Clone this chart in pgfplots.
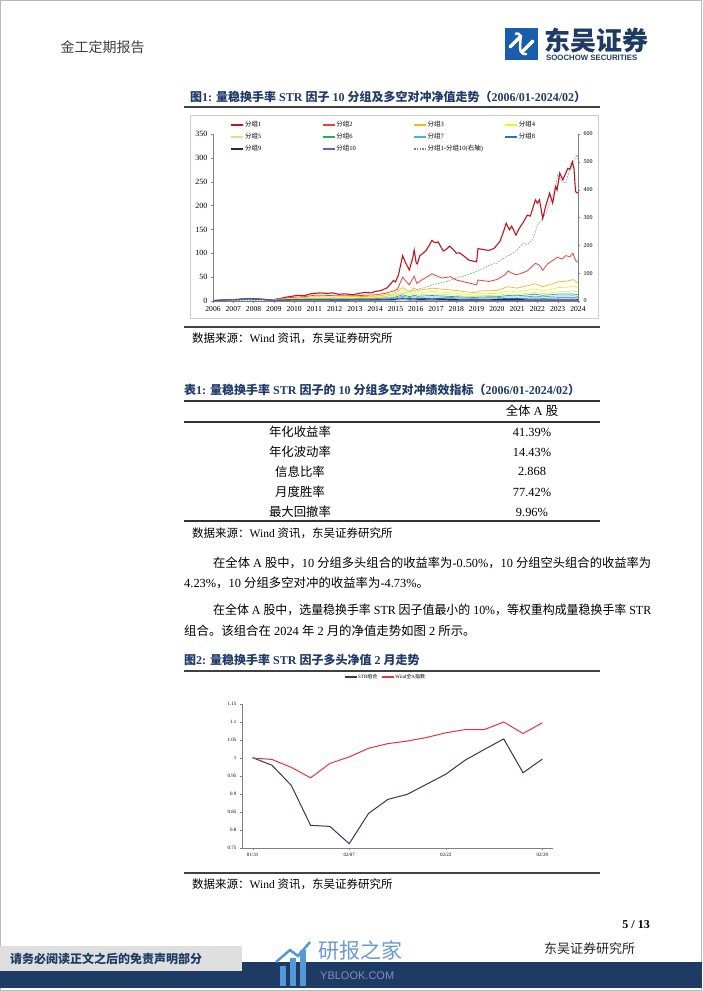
\documentclass[border=0pt]{standalone}
\usepackage{fontspec}
\setmainfont{Liberation Serif}
\newfontfamily\cjk{Noto Sans CJK SC}
\newfontfamily\sans{Liberation Sans}
\usepackage{graphicx}
\usepackage{pgfplots}
\pgfplotsset{compat=1.18}

% switch CJK characters to the CJK font automatically
\makeatletter
\XeTeXinterchartokenstate=1
\chardef\CJKcls=10
\count@="3000
\loop\XeTeXcharclass\count@=\CJKcls\advance\count@ 1\ifnum\count@<"3040\repeat
\count@="4E00
\loop\XeTeXcharclass\count@=\CJKcls\advance\count@ 1\ifnum\count@<"A000\repeat
\count@="FF00
\loop\XeTeXcharclass\count@=\CJKcls\advance\count@ 1\ifnum\count@<"FFF0\repeat
\XeTeXinterchartoks 0 \CJKcls={\begingroup\cjk}
\XeTeXinterchartoks 4095 \CJKcls={\begingroup\cjk}
\XeTeXinterchartoks \CJKcls 0={\endgroup}
\XeTeXinterchartoks \CJKcls 4095={\endgroup}
\makeatother
\XeTeXlinebreaklocale "zh"
\XeTeXlinebreakskip=0pt plus 2pt

\definecolor{titleblue}{HTML}{1F3A6B}
\definecolor{logoblue}{HTML}{1A5DAD}
\definecolor{navy}{HTML}{1D3B64}
\definecolor{gA}{HTML}{C0141E}
\definecolor{gB}{HTML}{E8413C}
\definecolor{gC}{HTML}{F2B62C}
\definecolor{gD}{HTML}{F7EF1E}
\definecolor{gE}{HTML}{D6E38A}
\definecolor{gF}{HTML}{2EA85B}
\definecolor{gG}{HTML}{3FB6E8}
\definecolor{gH}{HTML}{2F72B8}
\definecolor{gI}{HTML}{1F2A5C}
\definecolor{gJ}{HTML}{6E5DB5}
\definecolor{strc}{HTML}{2B3A67}
\definecolor{windc}{HTML}{E8343E}

\newcommand{\legtxt}[1]{\makebox[76pt][l]{#1}}

\begin{document}
\begin{tikzpicture}[x=1pt,y=1pt]
\path[use as bounding box, fill=white] (0,0) rectangle (702,-991);
\draw[gray!55, line width=0.8pt] (0.4,-0.4) rectangle (701.6,-990.6);

% header
\node[anchor=west, font=\fontsize{14}{16}\selectfont, text=black!75] at (57,-47) {金工定期报告};
\fill[logoblue] (505,-28) rectangle (538,-60);
\draw[white, line width=3.2pt, line cap=round] (510,-47) -- (521,-36);
\draw[white, line width=3.2pt, line cap=round] (522,-52) -- (533,-41);
\draw[white, line width=2.4pt] (515,-34) .. controls (528,-30) and (512,-56) .. (527,-54);
\node[anchor=west, font=\bfseries\fontsize{26}{28}\selectfont, text=navy, inner sep=0pt] at (544,-40) {东吴证券};
\node[anchor=west, font=\sans\bfseries\fontsize{7.8}{8}\selectfont, text=navy, inner sep=0pt] at (546,-58) {SOOCHOW SECURITIES};

% figure 1 frame
\node[anchor=west, font=\bfseries\fontsize{12}{14}\selectfont, text=titleblue, inner sep=0pt] at (190,-97) {图1: 量稳换手率 STR 因子 10 分组及多空对冲净值走势（2006/01-2024/02）};
\draw[black!75, line width=1.6pt] (184,-107) -- (600,-107);
\draw[gray!40, line width=0.8pt] (190,-115) rectangle (598,-318);
\draw[black!75, line width=1.6pt] (184,-327) -- (600,-327);
\node[anchor=west, font=\fontsize{11.5}{13}\selectfont, inner sep=0pt] at (192,-338) {数据来源：Wind 资讯，东吴证券研究所};

% right axis: long-short
\begin{axis}[at={(213pt,-301pt)}, anchor=south west, scale only axis,
  width=365pt, height=167pt, xmin=2006, xmax=2024, ymin=0, ymax=600,
  axis x line=none, axis y line*=right, axis line style={-, gray},
  ytick={0,100,...,600}, tick align=outside, major tick length=2pt,
  tick style={gray}, tick label style={font=\fontsize{6}{7}\selectfont},
  /pgf/number format/assume math mode=true]
\addplot[gray, dash pattern=on 1.6pt off 1.2pt, line width=0.5pt] coordinates {
(2006,1)(2007,1.2)(2008,1.5)(2009,2)(2010,4)(2011,5)(2012,6)(2013,8)(2014,12)(2014.5,16)
(2015,22)(2015.5,30)(2016,40)(2016.5,50)(2017,61)(2017.5,70)(2018,82)(2018.5,93)(2019,106)
(2019.5,124)(2019.75,132)(2020,136)(2020.25,150)(2020.5,160)(2020.75,170)(2021,184)
(2021.2,200)(2021.3,208)(2021.5,202)(2021.8,226)(2022,274)(2022.15,285)(2022.3,304)
(2022.45,320)(2022.6,352)(2022.75,380)(2022.9,412)(2023,454)(2023.1,440)(2023.2,430)
(2023.4,424)(2023.5,450)(2023.6,472)(2023.8,502)(2023.95,526)(2024,508)};
\end{axis}

% left axis: ten groups
\begin{axis}[at={(213pt,-301pt)}, anchor=south west, scale only axis,
  width=365pt, height=167pt, xmin=2006, xmax=2024, ymin=0, ymax=350,
  axis x line*=bottom, axis y line*=left, axis line style={-, gray},
  xtick={2006,2007,...,2024}, ytick={0,50,...,350},
  x tick label style={/pgf/number format/1000 sep={}, font=\fontsize{7.6}{8}\selectfont},
  y tick label style={font=\fontsize{8}{9}\selectfont},
  tick align=outside, major tick length=2pt, tick style={gray},
  /pgf/number format/assume math mode=true,
  legend columns=4,
  legend style={at={(0.04,1.094)}, anchor=north west, draw=none, fill=none,
    font=\fontsize{6.5}{7}\selectfont, row sep=3pt, nodes={inner sep=1pt}},
  legend image code/.code={\draw[#1, line width=1.3pt] (0pt,0pt) -- (12pt,0pt);}]
\addplot[gA, line width=1.1pt] coordinates {
(2006,1)(2006.5,1.5)(2007,2)(2007.4,3.5)(2007.8,5)(2008,5)(2008.4,4)(2008.8,2.5)(2009,3)
(2009.3,5)(2009.6,8)(2009.9,10)(2010.2,12)(2010.5,11)(2010.8,15)(2011,16)(2011.3,17)
(2011.6,16)(2011.9,17)(2012.2,14)(2012.5,15)(2012.9,13)(2013.2,16)(2013.5,18)(2013.8,17)
(2014,20)(2014.3,22)(2014.6,28)(2014.8,38)(2014.9,43)(2015,40)(2015.15,55)(2015.35,95)
(2015.5,80)(2015.68,65)(2015.85,90)(2015.92,107)(2016.02,80)(2016.08,78)(2016.2,95)
(2016.5,105)(2016.8,127)(2016.95,122)(2017.1,124)(2017.35,105)(2017.5,108)(2017.67,115)
(2017.85,108)(2018,100)(2018.15,101)(2018.35,95)(2018.6,86)(2018.8,84)(2019,82)
(2019.07,110)(2019.3,108)(2019.6,106)(2019.85,110)(2020,117)(2020.15,125)(2020.3,142)
(2020.46,163)(2020.62,149)(2020.73,157)(2020.94,138)(2021.1,152)(2021.3,165)(2021.5,180)
(2021.65,178)(2021.9,212)(2022,205)(2022.1,212)(2022.26,173)(2022.4,198)(2022.6,226)
(2022.75,205)(2022.9,240)(2022.97,233)(2023.1,268)(2023.25,254)(2023.5,278)(2023.6,276)
(2023.72,292)(2023.8,278)(2023.88,229)(2024,226)};
\addlegendentry{\legtxt{分组1}}
\addplot[gB, line width=0.8pt] coordinates {
(2006,1)(2007,2)(2007.8,4.5)(2008.5,3.5)(2009,3)(2009.6,6)(2010,8)(2010.5,9)(2011,12)
(2011.5,12)(2012,11)(2012.5,11)(2013,11)(2013.5,12)(2014,13)(2014.5,16)(2014.9,21)
(2015.1,25)(2015.35,50)(2015.5,42)(2015.68,34)(2015.92,52)(2016.05,37)(2016.3,44)
(2016.8,57)(2017,53)(2017.3,48)(2017.7,51)(2018,44)(2018.5,39)(2019,34)(2019.07,44)
(2019.6,41)(2020,45)(2020.4,55)(2020.55,63)(2020.75,58)(2020.95,55)(2021.2,58)(2021.5,63)
(2021.9,79)(2022.1,75)(2022.26,64)(2022.5,78)(2022.75,85)(2023,92)(2023.2,88)(2023.4,95)
(2023.6,93)(2023.75,100)(2023.88,85)(2024,81)};
\addlegendentry{\legtxt{分组2}}
\addplot[gC, line width=0.7pt] coordinates {
(2006,1)(2007.8,4)(2009,3)(2010,6)(2011,9)(2012,8)(2013,9)(2014,10)(2014.9,15)(2015.35,28)
(2015.7,20)(2015.92,27)(2016.1,22)(2016.8,27)(2017.5,24)(2018,22)(2018.5,19)(2019,17)
(2019.1,21)(2020,22)(2020.55,30)(2021,27)(2021.9,36)(2022.26,30)(2022.75,36)(2023,40)
(2023.5,42)(2023.75,45)(2024,38)};
\addlegendentry{\legtxt{分组3}}
\addplot[gD, line width=0.7pt] coordinates {
(2006,1)(2007.8,4)(2009,2.5)(2010,5)(2011,7)(2012,6.5)(2013,7)(2014,8)(2014.9,12)(2015.35,22)
(2015.7,16)(2015.92,21)(2016.1,17)(2016.8,20)(2017.5,18)(2018,16)(2018.5,14)(2019,12)
(2019.1,15)(2020,16)(2020.55,21)(2021,19)(2021.9,25)(2022.26,21)(2022.75,25)(2023,28)
(2023.5,29)(2023.75,31)(2024,27)};
\addlegendentry{\legtxt{分组4}}
\addplot[gE, line width=0.7pt] coordinates {
(2006,1)(2007.8,4)(2009,2.5)(2010,4)(2011,5.5)(2012,5)(2013,5.5)(2014,6)(2014.9,9)(2015.35,17)
(2015.7,12)(2015.92,16)(2016.1,13)(2016.8,15)(2017.5,13.5)(2018,12)(2018.5,10)(2019,9)
(2019.1,11)(2020,12)(2020.55,15)(2021,14)(2021.9,18)(2022.26,15)(2022.75,18)(2023,19)
(2023.5,20)(2023.75,21)(2024,19)};
\addlegendentry{\legtxt{分组5}}
\addplot[gF, line width=0.7pt] coordinates {
(2006,1)(2007.8,4)(2009,2)(2010,3.5)(2011,4.5)(2012,4)(2013,4.5)(2014,5)(2014.9,7)(2015.35,13)
(2015.7,9)(2015.92,12)(2016.1,10)(2016.8,11.5)(2017.5,10)(2018,9)(2018.5,8)(2019,7)
(2019.1,8.5)(2020,9)(2020.55,11.5)(2021,11)(2021.9,14)(2022.26,12)(2022.75,13.5)(2023,14.5)
(2023.5,14.5)(2023.75,15)(2024,13)};
\addlegendentry{\legtxt{分组6}}
\addplot[gG, line width=0.7pt] coordinates {
(2006,1)(2007.8,4)(2009,2)(2010,3)(2011,3.5)(2012,3)(2013,3.5)(2014,4)(2014.9,5.5)(2015.35,10)
(2015.7,7)(2015.92,9)(2016.1,7.5)(2016.8,8.5)(2017.5,7.5)(2018,7)(2018.5,6)(2019,5.5)
(2019.1,6.5)(2020,7)(2020.55,8.5)(2021,8)(2021.9,10)(2022.26,9)(2022.75,10)(2023,10.5)
(2023.5,10.5)(2023.75,11)(2024,9.5)};
\addlegendentry{\legtxt{分组7}}
\addplot[gH, line width=0.7pt] coordinates {
(2006,1)(2007.8,4.5)(2009,1.8)(2010,2.5)(2011,2.8)(2012,2.4)(2013,2.8)(2014,3)(2014.9,4)
(2015.35,7)(2015.7,5)(2015.92,6)(2016.1,5)(2016.8,5.5)(2017.5,5)(2018,4.5)(2018.5,4)
(2019,3.6)(2019.1,4.2)(2020,4.5)(2020.55,5.5)(2021,5.2)(2021.9,6.5)(2022.26,5.8)
(2022.75,6.3)(2023,6.8)(2023.5,6.8)(2023.75,7)(2024,6)};
\addlegendentry{\legtxt{分组8}}
\addplot[gI, line width=0.8pt] coordinates {
(2006,1)(2007.8,5)(2009,1.5)(2010,2)(2011,2.2)(2012,1.8)(2013,2)(2014,2.2)(2014.9,3)
(2015.35,5)(2015.7,3.5)(2015.92,4)(2016.1,3.3)(2016.8,3.6)(2017.5,3.2)(2018,2.9)(2018.5,2.6)
(2019,2.3)(2019.1,2.7)(2020,2.9)(2020.55,3.4)(2021,3.2)(2021.9,3.9)(2022.26,3.5)
(2022.75,3.7)(2023,3.9)(2023.5,3.8)(2023.75,3.9)(2024,3.4)};
\addlegendentry{\legtxt{分组9}}
\addplot[gJ, line width=0.7pt] coordinates {
(2006,1)(2007.8,5)(2009,1.2)(2010,1.5)(2011,1.5)(2012,1.2)(2013,1.3)(2014,1.3)(2014.9,1.6)
(2015.35,2.5)(2015.7,1.7)(2015.92,1.9)(2016.1,1.5)(2016.8,1.5)(2017.5,1.3)(2018,1.1)
(2018.5,1)(2019,0.9)(2019.1,1)(2020,1)(2020.55,1.1)(2021,1)(2021.9,1.1)(2022.26,1)
(2022.75,1)(2023,1)(2023.5,0.95)(2023.75,0.9)(2024,0.85)};
\addlegendentry{\legtxt{分组10}}
\addlegendimage{gray, dash pattern=on 1.6pt off 1.2pt, line width=0.5pt}
\addlegendentry{\legtxt{分组1-分组10(右轴)}}
\end{axis}

% table 1
\node[anchor=west, font=\bfseries\fontsize{12}{14}\selectfont, text=titleblue, inner sep=0pt] at (184,-390) {表1: 量稳换手率 STR 因子的 10 分组多空对冲绩效指标（2006/01-2024/02）};
\draw[black!80, line width=1.6pt] (184,-401) -- (600,-401);
\draw[black!80, line width=1.2pt] (184,-422) -- (600,-422);
\draw[black!80, line width=1.6pt] (184,-521) -- (600,-521);
\begin{scope}[font=\fontsize{12.4}{14}\selectfont]
\node at (532,-411) {全体 A 股};
\node at (300,-432) {年化收益率};   \node at (532,-432) {41.39\%};
\node at (300,-452) {年化波动率};   \node at (532,-452) {14.43\%};
\node at (300,-471.5) {信息比率};   \node at (532,-471.5) {2.868};
\node at (300,-492) {月度胜率};     \node at (532,-492) {77.42\%};
\node at (300,-512) {最大回撤率};   \node at (532,-512) {9.96\%};
\end{scope}
\node[anchor=west, font=\fontsize{11.5}{13}\selectfont, inner sep=0pt] at (192,-533) {数据来源：Wind 资讯，东吴证券研究所};

% body text
\begin{scope}[font=\fontsize{12.4}{14}\selectfont]
\node[anchor=west, inner sep=0pt] at (213,-563) {\resizebox{438pt}{\height}{在全体 A 股中，10 分组多头组合的收益率为-0.50\%，10 分组空头组合的收益率为}};
\node[anchor=west, inner sep=0pt] at (184,-583) {4.23\%，10 分组多空对冲的收益率为-4.73\%。};
\node[anchor=west, inner sep=0pt] at (213,-610) {\resizebox{438pt}{\height}{在全体 A 股中，选量稳换手率 STR 因子值最小的 10\%，等权重构成量稳换手率 STR}};
\node[anchor=west, inner sep=0pt] at (184,-631) {组合。该组合在 2024 年 2 月的净值走势如图 2 所示。};
\end{scope}

% figure 2
\node[anchor=west, font=\bfseries\fontsize{12}{14}\selectfont, text=titleblue, inner sep=0pt] at (184,-660) {图2: 量稳换手率 STR 因子多头净值 2 月走势};
\draw[black!75, line width=1.6pt] (184,-671) -- (600,-671);

\begin{axis}[at={(242pt,-848pt)}, anchor=south west, scale only axis,
  width=311pt, height=144pt, xmin=-0.55, xmax=15.55, ymin=0.75, ymax=1.15,
  axis x line*=bottom, axis y line*=left, axis line style={-, gray},
  xtick={0,5,10,15}, xticklabels={01/31,02/07,02/22,02/29},
  ytick={0.75,0.8,0.85,0.9,0.95,1,1.05,1.1,1.15},
  yticklabels={0.75,0.8,0.85,0.9,0.95,1,1.05,1.1,1.15},
  tick align=outside, major tick length=2pt, tick style={gray},
  tick label style={font=\fontsize{5}{6}\selectfont},
  /pgf/number format/assume math mode=true,
  legend columns=2,
  legend style={at={(0.46,1.1875)}, anchor=center, draw=none, fill=none,
    font=\fontsize{5}{6}\selectfont, nodes={inner sep=1pt},
    /tikz/every even column/.append style={column sep=3pt}},
  legend image code/.code={\draw[#1, line width=1.1pt] (0pt,0pt) -- (12pt,0pt);}]
\addplot[strc, line width=1pt] coordinates {
(0,1.001)(1,0.980)(2,0.924)(3,0.813)(4,0.810)(5,0.762)(6,0.846)(7,0.885)(8,0.899)
(9,0.927)(10,0.955)(11,0.994)(12,1.024)(13,1.053)(14,0.959)(15,0.997)};
\addlegendentry{STR组合}
\addplot[windc, line width=1pt] coordinates {
(0,1.000)(1,0.996)(2,0.974)(3,0.945)(4,0.985)(5,1.003)(6,1.027)(7,1.040)(8,1.047)
(9,1.057)(10,1.070)(11,1.079)(12,1.079)(13,1.100)(14,1.068)(15,1.098)};
\addlegendentry{Wind全A指数}
\end{axis}

\draw[black!75, line width=1.6pt] (184,-873) -- (600,-873);
\node[anchor=west, font=\fontsize{11.5}{13}\selectfont, inner sep=0pt] at (192,-884) {数据来源：Wind 资讯，东吴证券研究所};

% footer
\node[anchor=east, font=\bfseries\fontsize{12}{14}\selectfont, inner sep=0pt] at (650,-925) {5 / 13};
\fill[navy] (0,-962) rectangle (702,-988);
\fill[gray!25] (0,-946) rectangle (242,-971);
\node[anchor=west, font=\bfseries\fontsize{12}{14}\selectfont, text=navy, inner sep=0pt] at (10,-959) {请务必阅读正文之后的免责声明部分};
\node[anchor=west, font=\fontsize{13}{15}\selectfont, text=black!85, inner sep=0pt] at (544,-949) {东吴证券研究所};
% watermark
\fill[cyan!60!blue!70] (280,-986) rectangle (286,-966);
\fill[cyan!60!blue!70] (290,-986) rectangle (296,-958);
\fill[cyan!60!blue!70] (300,-986) rectangle (306,-950);
\draw[cyan!60!blue!70, line width=2.5pt] (276,-962) -- (290,-950) -- (298,-956) -- (310,-942);
\node[anchor=west, font=\fontsize{21}{23}\selectfont, text=cyan!50!blue!60, inner sep=0pt] at (318,-950) {研报之家};
\node[anchor=west, font=\sans\fontsize{11}{12}\selectfont, text=blue!30!gray!70, inner sep=0pt] at (320,-976) {YBLOOK.COM};
\end{tikzpicture}
\end{document}
